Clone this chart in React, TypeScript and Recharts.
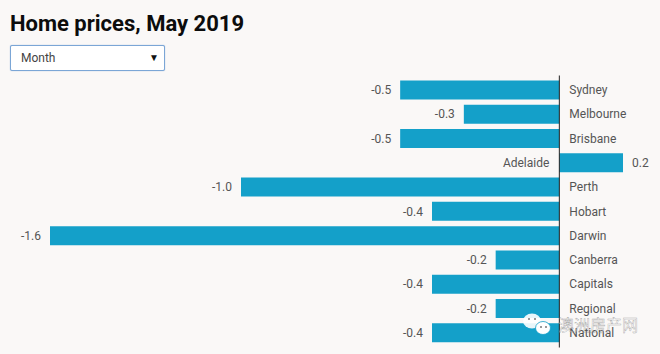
import { Bar, BarChart, LabelList, ReferenceLine, XAxis, YAxis } from "recharts";

const CITIES = ["Sydney", "Melbourne", "Brisbane", "Adelaide", "Perth", "Hobart", "Darwin", "Canberra", "Capitals", "Regional", "National"];
const MONTH_CHANGE = [-0.5, -0.3, -0.5, 0.2, -1.0, -0.4, -1.6, -0.2, -0.4, -0.2, -0.4];

const rows = CITIES.map((city, i) => ({ city, change: MONTH_CHANGE[i] }));

const FONT = "Roboto, sans-serif";
const TEXT_COLOR = "#555";

function ValueLabel({ x, y, width, height, value }: any) {
  const left = Math.min(x, x + width);
  const right = Math.max(x, x + width);
  const neg = value < 0;
  return (
    <text
      x={neg ? left - 9 : right + 9}
      y={y + height / 2}
      dy="0.35em"
      textAnchor={neg ? "end" : "start"}
      fontSize={12}
      fontFamily={FONT}
      fill={TEXT_COLOR}
    >
      {value.toFixed(1)}
    </text>
  );
}

function CityLabel({ x, y, width, height, value, index }: any) {
  const left = Math.min(x, x + width);
  const right = Math.max(x, x + width);
  const neg = MONTH_CHANGE[index] < 0;
  return (
    <text
      x={neg ? right + 10 : left - 10}
      y={y + height / 2}
      dy="0.35em"
      textAnchor={neg ? "start" : "end"}
      fontSize={12}
      fontFamily={FONT}
      fill={TEXT_COLOR}
    >
      {value}
    </text>
  );
}

function ZeroLine({ x1, y1, x2, y2 }: any) {
  return <line x1={x1} x2={x2} y1={y1 + 3} y2={y2 - 2} stroke="#222" strokeWidth={1} />;
}

// wechat account stamp sitting over the bottom right corner
function Stamp() {
  return (
    <svg width={660} height={354} style={{ position: "absolute", left: 0, top: 0 }}>
      <ellipse cx={532} cy={321} rx={9} ry={7.5} fill="#fff" fillOpacity={0.9} />
      <ellipse cx={543} cy={328} rx={7.5} ry={6.5} fill="#fff" stroke="#14a0c9" strokeWidth={0.8} />
      <circle cx={529} cy={319} r={1} fill="#777" />
      <circle cx={535} cy={319} r={1} fill="#777" />
      <circle cx={541} cy={327} r={1} fill="#777" />
      <circle cx={546} cy={327} r={1} fill="#777" />
      <text
        x={558}
        y={331}
        fontSize={16}
        fontFamily="'Noto Sans CJK SC'"
        fill="#fff"
        fillOpacity={0.4}
        stroke="#555"
        strokeOpacity={0.55}
        strokeWidth={0.4}
      >
        澳洲房产网
      </text>
    </svg>
  );
}

export default function App() {
  return (
    <div style={{ position: "fixed", left: 0, top: 0, width: 660, height: 354, background: "#faf8f7", overflow: "hidden" }}>
      <div
        style={{
          position: "absolute",
          left: 10,
          top: 11,
          fontFamily: FONT,
          fontWeight: 700,
          fontSize: 22,
          lineHeight: "26px",
          color: "#0c0c0c",
        }}
      >
        Home prices, May 2019
      </div>
      <div
        style={{
          position: "absolute",
          left: 10,
          top: 45,
          width: 153,
          height: 24,
          background: "#fff",
          border: "1px solid #7ba6d6",
          boxShadow: "0 0 1px #7ba6d6",
          borderRadius: 2,
          fontFamily: FONT,
          fontSize: 12,
          lineHeight: "24px",
          color: "#444",
        }}
      >
        <span style={{ position: "absolute", left: 10 }}>Month</span>
        <span style={{ position: "absolute", right: 5, fontSize: 10, color: "#111" }}>▼</span>
      </div>
      <div style={{ position: "absolute", left: 0, top: 0 }}>
        <BarChart
          width={660}
          height={354}
          data={rows}
          layout="vertical"
          margin={{ top: 77.5, right: 37, bottom: 9.5, left: 50 }}
          barCategoryGap={0}
        >
          <XAxis type="number" domain={[-1.6, 0.2]} hide />
          <YAxis type="category" dataKey="city" hide />
          <Bar dataKey="change" fill="#14a0c9" barSize={19} isAnimationActive={false}>
            <LabelList dataKey="change" content={<ValueLabel />} />
            <LabelList dataKey="city" content={<CityLabel />} />
          </Bar>
          <ReferenceLine x={0} shape={<ZeroLine />} />
        </BarChart>
      </div>
      <Stamp />
    </div>
  );
}
